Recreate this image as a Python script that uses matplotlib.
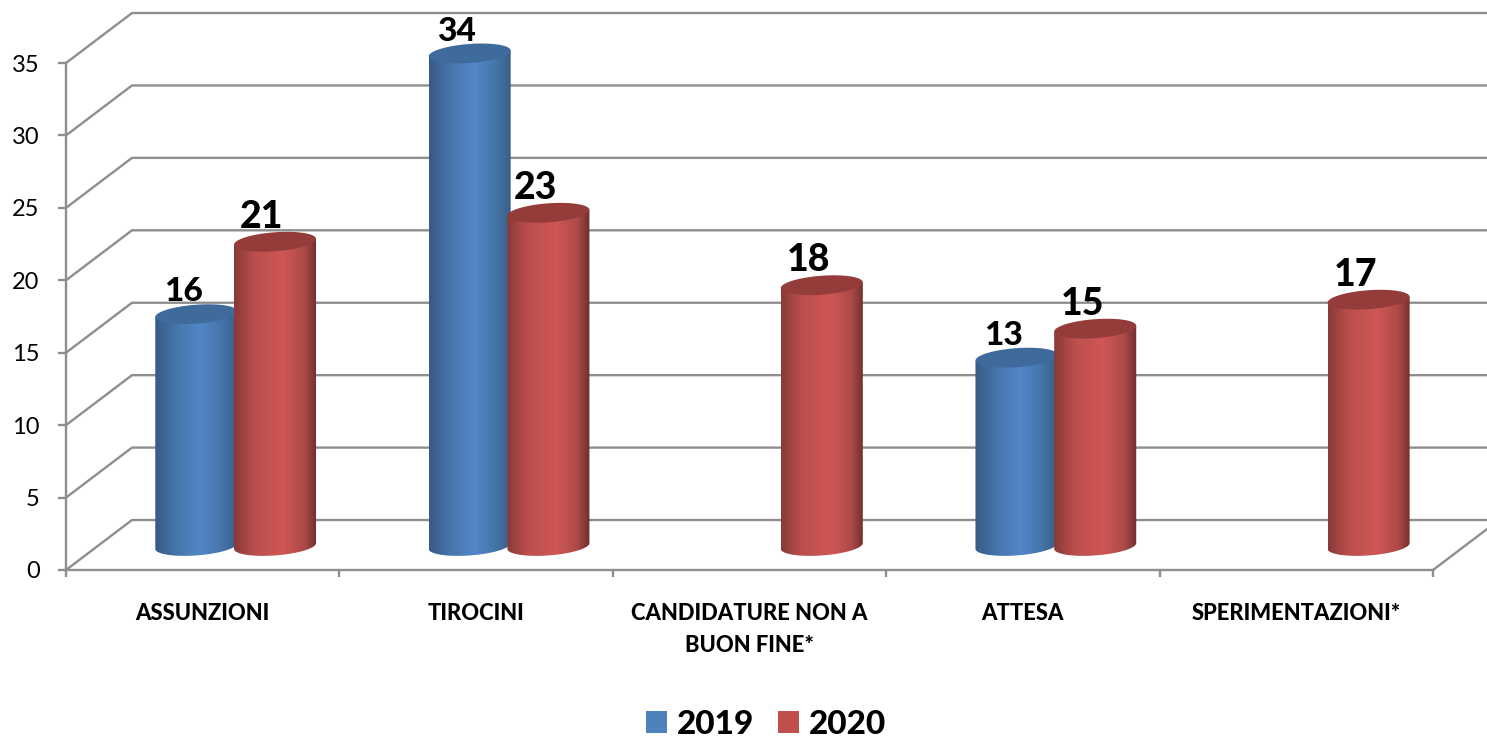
# Colonne cilindriche finte 3D: 2019 contro 2020
import matplotlib
matplotlib.use("Agg")
import matplotlib.pyplot as plt
import numpy as np
from matplotlib.colors import LinearSegmentedColormap
from matplotlib.patches import Patch, PathPatch
from matplotlib.path import Path

categorie = ["ASSUNZIONI", "TIROCINI", "CANDIDATURE NON A\nBUON FINE*", "ATTESA", "SPERIMENTAZIONI*"]
valori_2019 = [16, 34, None, 13, None]
valori_2020 = [21, 23, 18, 15, 17]
tick_y = [0, 5, 10, 15, 20, 25, 30, 35]

plt.rcParams["font.family"] = ["Lato", "DejaVu Sans"]

GRIGIO = "#8e8e8e"
# offset della parete di fondo e della base dei cilindri (unita' dati)
muro_dx, muro_dy = 0.2414, 3.45
base_dx, base_dy = 0.1205, 1.66
semi_x, semi_y, incl = 0.15, 0.655, 0.2

fig = plt.figure(figsize=(14.87, 7.36), dpi=100)
ax = fig.add_axes([66 / 1487, 166 / 736, 1367 / 1487, 507 / 736])


def contorno(cx, cy, da, a, n=60):
    t = np.linspace(da, a, n)
    return cx + semi_x * np.cos(t), cy + semi_y * np.sin(t) + incl * np.cos(t)


def cilindro(cx, valore, sfumatura, colore_top):
    base = base_dy
    cima = base + valore
    # corpo: dal bordo destro in alto giu' lungo l'arco inferiore fino a sinistra
    xb, yb = contorno(cx, base, 0, -np.pi)
    xs = np.r_[cx + semi_x, xb, cx - semi_x, cx + semi_x]
    ys = np.r_[cima + incl, yb, cima - incl, cima + incl]
    corpo = PathPatch(Path(np.c_[xs, ys]), transform=ax.transData, facecolor="none", edgecolor="none")
    ax.add_patch(corpo)
    corpo.set_clip_on(False)
    img = ax.imshow(np.linspace(0, 1, 128)[None, :], cmap=sfumatura, aspect="auto", zorder=3,
                    extent=(cx - semi_x, cx + semi_x, base - 1, cima + 1), interpolation="bilinear")
    img.set_clip_box(fig.bbox)
    img.set_clip_path(corpo)
    xt, yt = contorno(cx, cima, 0, 2 * np.pi)
    ax.fill(xt, yt, color=colore_top, lw=0, zorder=3, clip_on=False)


blu = LinearSegmentedColormap.from_list("blu", [(0, "#385b86"), (0.28, "#4877ae"), (0.55, "#5286c8"), (0.8, "#4675a9"), (1, "#385e89")])
rosso = LinearSegmentedColormap.from_list("rosso", [(0, "#883a38"), (0.25, "#bb4f4d"), (0.6, "#cf5755"), (0.85, "#ad4a48"), (1, "#6e2f2e")])

# parete di fondo
for v in tick_y:
    ax.plot([0, muro_dx, 5 + muro_dx], [v, v + muro_dy, v + muro_dy], color=GRIGIO, lw=1.7, zorder=1, clip_on=False)
ax.plot([5, 5 + muro_dx], [0, muro_dy], color=GRIGIO, lw=1.7, zorder=1, clip_on=False)

for i in range(len(categorie)):
    centro = i + 0.5 + base_dx
    if valori_2019[i] is not None:
        cilindro(centro - 0.144, valori_2019[i], blu, "#3e6a9c")
        ax.annotate(str(valori_2019[i]), (centro - 0.144, base_dy + valori_2019[i]), xytext=(-9.5, 16),
                    textcoords="offset points", ha="center", va="center", fontsize=24,
                    fontweight=900, color="black", zorder=5, annotation_clip=False)
    cilindro(centro + 0.144, valori_2020[i], rosso, "#933c3a")
    ax.annotate(str(valori_2020[i]), (centro + 0.144, base_dy + valori_2020[i]), xytext=(-9.5, 18),
                textcoords="offset points", ha="center", va="center", fontsize=27,
                fontweight=900, color="black", zorder=5, annotation_clip=False)

ax.set_xlim(0, 5)
ax.set_ylim(0, 35)
ax.patch.set_alpha(0)

for lato in ["top", "right"]:
    ax.spines[lato].set_visible(False)
for lato in ["left", "bottom"]:
    ax.spines[lato].set_color(GRIGIO)
    ax.spines[lato].set_linewidth(1.7)
    ax.spines[lato].set_zorder(2)

ax.set_yticks(tick_y)
ax.tick_params(axis="y", length=5.5, width=1.7, color=GRIGIO, pad=13.5, labelsize=17, labelcolor="black")
ax.set_xticks(range(6))
ax.set_xticklabels([])
ax.tick_params(axis="x", which="major", length=5, width=1.7, color=GRIGIO)
ax.set_xticks(np.arange(len(categorie)) + 0.5, minor=True)
ax.set_xticklabels(categorie, minor=True, fontsize=15.8, fontweight=900, linespacing=1.65)
ax.tick_params(axis="x", which="minor", length=0, pad=24)

maniglie = [Patch(facecolor="#4f81bd", label="2019"), Patch(facecolor="#c0504d", label="2020")]
fig.legend(handles=maniglie, loc="center", bbox_to_anchor=(766 / 1487, 12 / 736), ncol=2, frameon=False,
           prop={"weight": 900, "size": 24}, handlelength=0.63, handleheight=0.63,
           handletextpad=0.3, columnspacing=0.7, borderpad=0, borderaxespad=0)

fig.savefig("out.png", dpi=100)
